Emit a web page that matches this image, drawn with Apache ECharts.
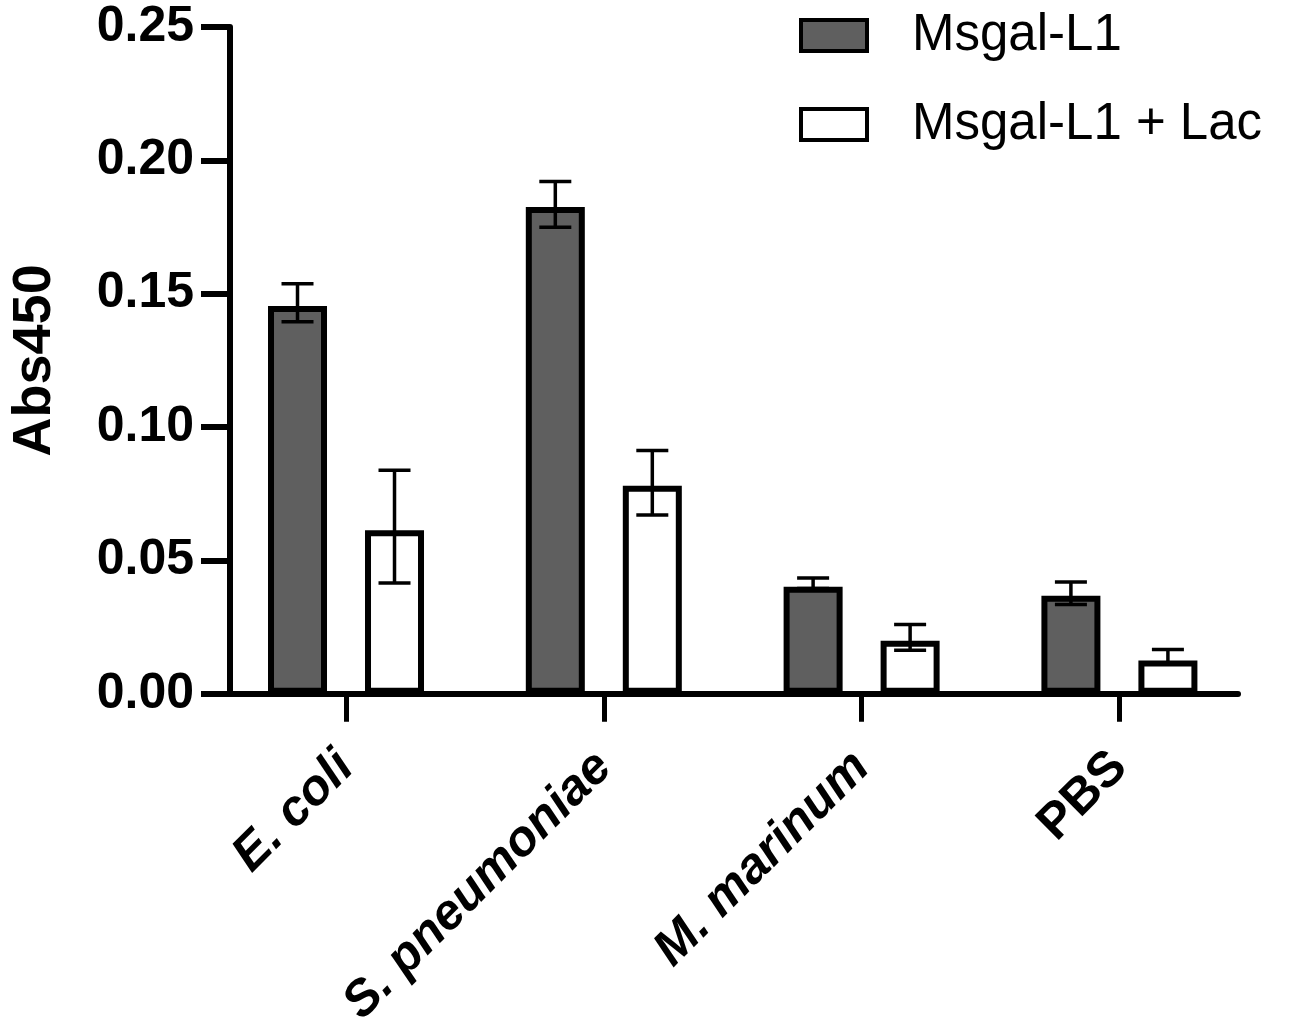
<!DOCTYPE html>
<html>
<head>
<meta charset="utf-8">
<script src="https://cdn.jsdelivr.net/npm/echarts@6/dist/echarts.min.js"></script>
<style>
  html, body { margin: 0; padding: 0; background: #fff; }
  #chart { width: 1298px; height: 1031px; }
</style>
</head>
<body>
<div id="chart"></div>
<script>
// 分组和数值
const categories = ['E. coli', 'S. pneumoniae', 'M. marinum', 'PBS']
const italicCats = [true, true, true, false]
const seriesNames = ['Msgal-L1', 'Msgal-L1 + Lac']

const msgalMean = [0.1454, 0.1825, 0.0401, 0.0367]
const msgalLow = [0.1395, 0.1749, 0.0395, 0.0335]
const msgalHigh = [0.1537, 0.1921, 0.0434, 0.0419]

const lacMean = [0.0613, 0.0780, 0.0199, 0.0125]
const lacLow = [0.0415, 0.0670, 0.0163, 0.0111]
const lacHigh = [0.0838, 0.0912, 0.0260, 0.0166]

// 样式
const FONT = "'Liberation Sans', Arial, Helvetica, sans-serif"
const BAR_W = 59
const BAR_GAP = 38 // 两根柱子之间的像素
const SHIFT = (BAR_W + BAR_GAP) / 2

const idx = categories.map((c, i) => i)

function errorSeries(low, high, dir) {
  return {
    type: 'custom',
    z: 5,
    silent: true,
    data: idx.map(i => [i, low[i], high[i]]),
    renderItem: function(params, api) {
      const x = api.value(0)
      const top = api.coord([x, api.value(2)])
      const bot = api.coord([x, api.value(1)])
      const cx = top[0] + dir * SHIFT
      const half = 16
      const st = { stroke: '#000', lineWidth: 3.5 }
      return {
        type: 'group',
        children: [
          { type: 'line', shape: { x1: cx, y1: top[1], x2: cx, y2: bot[1] }, style: st },
          { type: 'line', shape: { x1: cx - half, y1: top[1], x2: cx + half, y2: top[1] }, style: st },
          { type: 'line', shape: { x1: cx - half, y1: bot[1], x2: cx + half, y2: bot[1] }, style: st }
        ]
      }
    }
  }
}

const chart = echarts.init(document.getElementById('chart'))
chart.setOption({
  backgroundColor: '#fff',
  animation: false,
  legend: {
    orient: 'vertical',
    left: 799,
    top: 10,
    padding: 0,
    icon: 'rect',
    itemWidth: 66,
    itemHeight: 31,
    itemGap: 38,
    textStyle: { fontFamily: FONT, fontSize: 51, color: '#000', padding: [0, 0, 0, 40] },
    itemStyle: { borderWidth: 4, borderColor: '#000' },
    data: seriesNames
  },
  grid: { left: 227, right: 60, top: 27, bottom: 332 },
  xAxis: {
    type: 'value',
    min: -0.45,
    max: 3.46,
    splitLine: { show: false },
    axisLine: { show: true, onZero: false, lineStyle: { color: '#000', width: 6 } },
    axisTick: { show: true, customValues: idx, length: 28, lineStyle: { color: '#000', width: 5 } },
    axisLabel: {
      customValues: idx,
      rotate: 45,
      margin: 66,
      formatter: v => (italicCats[v] ? '{i|' : '{n|') + categories[v] + '}',
      rich: {
        i: { fontFamily: FONT, fontSize: 50, fontWeight: 'bold', fontStyle: 'italic', color: '#000' },
        n: { fontFamily: FONT, fontSize: 50, fontWeight: 'bold', color: '#000' }
      }
    }
  },
  yAxis: {
    type: 'value',
    min: 0,
    max: 0.25,
    interval: 0.05,
    name: 'Abs450',
    nameLocation: 'middle',
    nameGap: 168,
    nameTextStyle: { fontFamily: FONT, fontSize: 54, fontWeight: 'bold', color: '#000' },
    splitLine: { show: false },
    axisLine: { show: true, onZero: false, lineStyle: { color: '#000', width: 6 } },
    axisTick: { show: true, length: 29, lineStyle: { color: '#000', width: 6 } },
    axisLabel: {
      margin: 36,
      fontFamily: FONT,
      fontSize: 50,
      fontWeight: 'bold',
      color: '#000',
      padding: [4, 0, 0, 0],
      formatter: v => v.toFixed(2)
    }
  },
  series: [
    {
      name: seriesNames[0],
      type: 'bar',
      barWidth: BAR_W,
      barGap: (BAR_GAP / BAR_W * 100) + '%',
      itemStyle: { color: '#5f5f5f', borderColor: '#000', borderWidth: 6 },
      data: idx.map(i => [i, msgalMean[i]])
    },
    {
      name: seriesNames[1],
      type: 'bar',
      barWidth: BAR_W,
      barGap: (BAR_GAP / BAR_W * 100) + '%',
      itemStyle: { color: '#fff', borderColor: '#000', borderWidth: 6 },
      data: idx.map(i => [i, lacMean[i]])
    },
    errorSeries(msgalLow, msgalHigh, -1),
    errorSeries(lacLow, lacHigh, 1)
  ]
})
</script>
</body>
</html>
